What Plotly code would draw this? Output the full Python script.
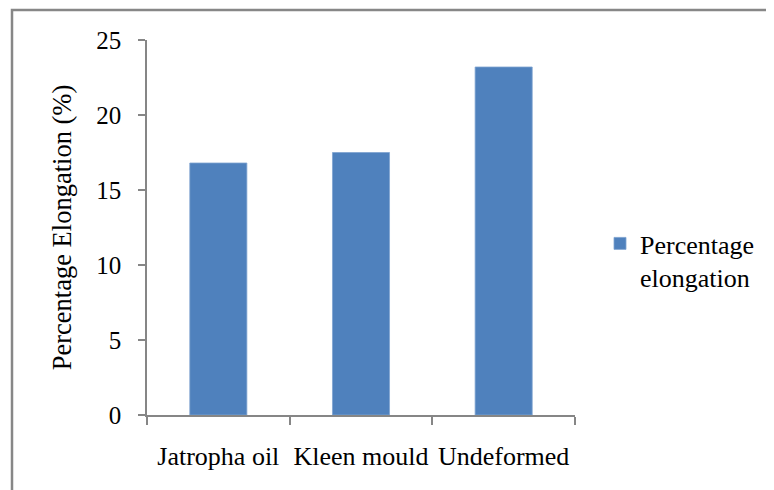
import plotly.graph_objects as go

categories = ["Jatropha oil", "Kleen mould", "Undeformed"]
elongation = [16.8, 17.5, 23.2]
y_ticks = [0, 5, 10, 15, 20, 25]
series_name = "Percentage<br>elongation"

W, H = 774, 490
OFF = 8  # page body margin
# desired plot area in page pixels: x 147..575, y 40..415
L, T = 147 - OFF, 40 - OFF
R, B = W - (575 - OFF), H - (415 - OFF)
pw, ph = W - L - R, H - T - B

def px(x):
    return (x - OFF - L) / pw

def py(y):
    return (H - B - (y - OFF)) / ph

fam = "Liberation Serif"
font = dict(family=fam, size=25, color="black")
axis_col = "#868686"

fig = go.Figure()
fig.add_trace(go.Bar(x=categories, y=elongation, name=series_name,
                     marker=dict(color="#4F81BD", line=dict(color="#7FA3D0", width=0.8)),
                     showlegend=True))

fig.update_layout(
    width=W, height=H,
    margin=dict(l=L, r=R, t=T, b=B, autoexpand=False),
    paper_bgcolor="white", plot_bgcolor="white",
    font=font,
    bargap=0.6,
    showlegend=True,
    legend=dict(x=px(600), y=py(220), xanchor="left", yanchor="top",
                font=dict(family=fam, size=26, color="black"),
                valign="top", bgcolor="rgba(0,0,0,0)", itemwidth=30),
    xaxis=dict(showline=True, linecolor=axis_col, linewidth=1.5,
               ticks="outside", tickson="boundaries", ticklen=8, tickcolor=axis_col,
               tickwidth=1.5, showgrid=False, zeroline=False, tickangle=0,
               automargin=False,
               tickfont=dict(family=fam, size=26, color="black"), ticklabelstandoff=17),
    yaxis=dict(range=[0, 25], tickvals=y_ticks, showline=True, linecolor=axis_col,
               linewidth=1.5, ticks="outside", ticklen=7, tickcolor=axis_col,
               tickwidth=1.5, showgrid=False, zeroline=False, automargin=False,
               tickfont=dict(family=fam, size=25, color="black"), ticklabelstandoff=12,
               title=dict(text="Percentage Elongation (%)",
                          font=dict(family=fam, size=26.5, color="black"), standoff=17)),
    shapes=[dict(type="rect", xref="paper", yref="paper",
                 x0=px(12), x1=px(800), y0=py(10), y1=py(520),
                 line=dict(color="#878787", width=2.5), fillcolor="rgba(0,0,0,0)",
                 layer="below")],
)

fig.write_html("out.html")
